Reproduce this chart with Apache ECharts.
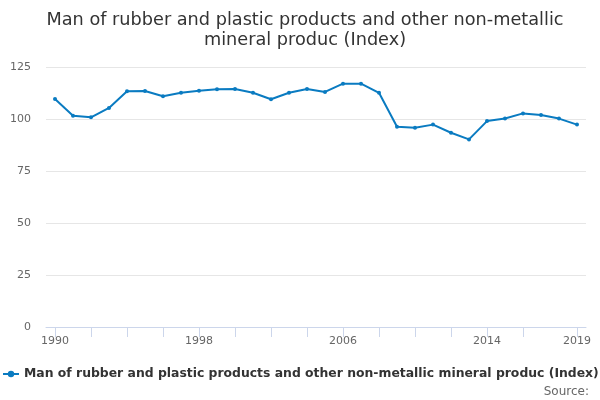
<!DOCTYPE html>
<html><head><meta charset="utf-8">
<script src="https://cdn.jsdelivr.net/npm/echarts@6/dist/echarts.min.js"></script>
<style>html,body{margin:0;padding:0;background:#fff}#c{width:600px;height:400px}</style>
</head><body><div id="c"></div>
<script>
const years = ['1990','1991','1992','1993','1994','1995','1996','1997','1998','1999','2000','2001','2002','2003','2004','2005','2006','2007','2008','2009','2010','2011','2012','2013','2014','2015','2016','2017','2018','2019'];
const values = [109.6,101.6,100.8,105.3,113.3,113.5,110.9,112.6,113.6,114.3,114.4,112.6,109.5,112.6,114.4,113.0,117.0,117.0,112.6,96.3,95.8,97.3,93.4,90.2,99.0,100.2,102.7,101.9,100.2,97.3];
const yTicks = [0,25,50,75,100,125];
const seriesName = 'Man of rubber and plastic products and other non-metallic mineral produc (Index)';
const titleText = 'Man of rubber and plastic products and other non-metallic\nmineral produc (Index)';
const last = years.length - 1;
const chart = echarts.init(document.getElementById('c'), null, {renderer:'canvas'});
chart.setOption({
  animation:false,
  textStyle:{fontFamily:'DejaVu Sans'},
  title:{text:titleText,left:300,top:5,textAlign:'center',
    textStyle:{fontSize:17.7,fontWeight:'normal',color:'#333',lineHeight:20,fontFamily:'DejaVu Sans'}},
  grid:{left:46,right:14,top:67,bottom:73},
  xAxis:{type:'category',data:years,boundaryGap:true,
    axisLine:{show:true,lineStyle:{color:'#ccd6eb'}},
    axisTick:{show:true,alignWithLabel:true,length:10,lineStyle:{color:'#ccd6eb'},
      interval:function(i){return (i%2===0 && i!==last-1) || i===last;}},
    axisLabel:{color:'#666',fontSize:11,margin:9,
      interval:function(i){return i%8===0 || i===last;}},
    splitLine:{show:false}},
  yAxis:{type:'value',min:yTicks[0],max:yTicks[yTicks.length-1],interval:25,
    axisLine:{show:false},axisTick:{show:false},
    axisLabel:{color:'#666',fontSize:11,margin:15},
    splitLine:{lineStyle:{color:'#e6e6e6'}}},
  legend:{left:2,top:368,padding:0,itemWidth:16,itemHeight:8,itemGap:0,
    textStyle:{fontSize:12.4,fontWeight:'bold',color:'#333',fontFamily:'DejaVu Sans'},
    data:[seriesName]},
  graphic:[{type:'text',right:11,top:386,style:{text:'Source:',fill:'#666',fontSize:12,fontFamily:'DejaVu Sans'}}],
  series:[{name:seriesName,type:'line',data:values,symbol:'circle',symbolSize:4,
    lineStyle:{color:'#0a7bc1',width:2},itemStyle:{color:'#0a7bc1'}}]
});
</script></body></html>
